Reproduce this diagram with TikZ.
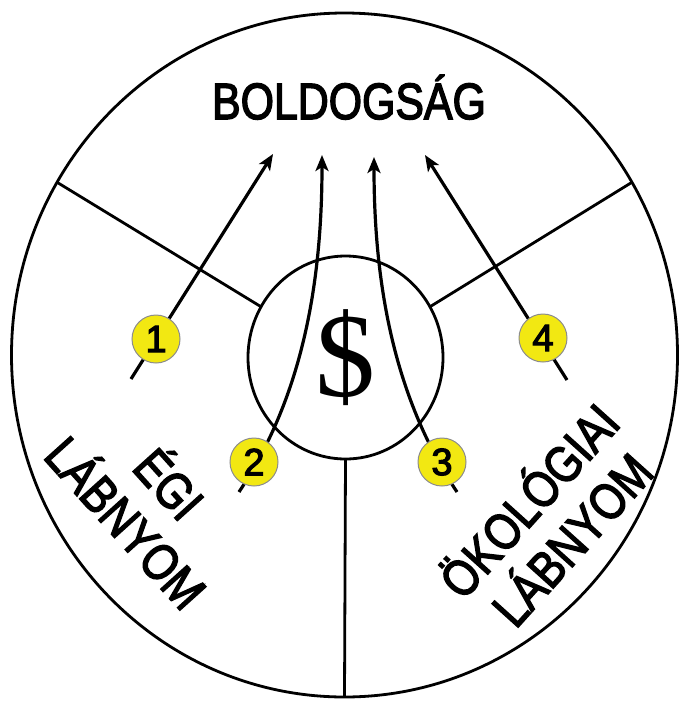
\documentclass[tikz,border=0pt]{standalone}
\usepackage{fontspec}
\usepackage{graphicx}
\setmainfont{Liberation Sans}[FakeBold=3]
\newfontfamily\serifdollar{Liberation Serif}
\usetikzlibrary{arrows.meta,shapes.geometric}
\definecolor{badgeyellow}{RGB}{242,232,18}
\newcommand{\narrowtext}[1]{\scalebox{0.84}[1]{#1}}

\begin{document}
\begin{tikzpicture}[x=1pt,y=-1pt,
  ring/.style={draw,ellipse,line width=2.8pt,inner sep=0,outer sep=0},
  spoke/.style={line width=2.8pt},
  flow/.style={line width=3.2pt,-{Stealth[length=16pt,width=13pt,inset=4pt]}},
  badge/.style={circle,fill=badgeyellow,draw=black!45,line width=1pt,minimum size=48pt,inner sep=0,font=\fontsize{38}{38}\selectfont},
  bigword/.style={font=\fontsize{51}{58}\selectfont,inner sep=0,align=center}]
  \useasboundingbox (0,0) rectangle (678,702);
  \node[ring,minimum width=666pt,minimum height=684pt] (wheel) at (344.5,355) {};
  \node[ring,minimum width=195pt,minimum height=203pt,font=\serifdollar\fontsize{120}{120}\selectfont] (money) at (345.5,357.5) {\$};
  \draw[spoke] (money.149) -- (wheel.149);
  \draw[spoke] (money.31) -- (wheel.31);
  \draw[spoke] (money.south) -- (wheel.south);
  \node[bigword,anchor=base] (title) at (349,119) {\narrowtext{BOLDOGSÁG}};
  \node[bigword,rotate=-48] (leftlabel) at (150,501) {\narrowtext{ÉGI}\\\narrowtext{LÁBNYOM}};
  \node[bigword,rotate=48] (rightlabel) at (548,518) {\narrowtext{ÖKOLÓGIAI}\\\narrowtext{LÁBNYOM}};
  \coordinate (tail1) at (131,379); \coordinate (tip1) at (273,154);
  \coordinate (tail2) at (239,492); \coordinate (tip2) at (322,155);
  \coordinate (tail3) at (457,492); \coordinate (tip3) at (374,157);
  \coordinate (tail4) at (567,380); \coordinate (tip4) at (425,155);
  \draw[flow] (tail1) -- (tip1);
  \draw[flow] (tail2) .. controls (300,400) and (322,290) .. (tip2);
  \draw[flow] (tail3) .. controls (396,400) and (374,290) .. (tip3);
  \draw[flow] (tail4) -- (tip4);
  \node[badge] (one) at (156,339) {1};
  \node[badge] (two) at (254,462) {2};
  \node[badge] (three) at (442,462) {3};
  \node[badge] (four) at (543,338) {4};
\end{tikzpicture}
\end{document}
